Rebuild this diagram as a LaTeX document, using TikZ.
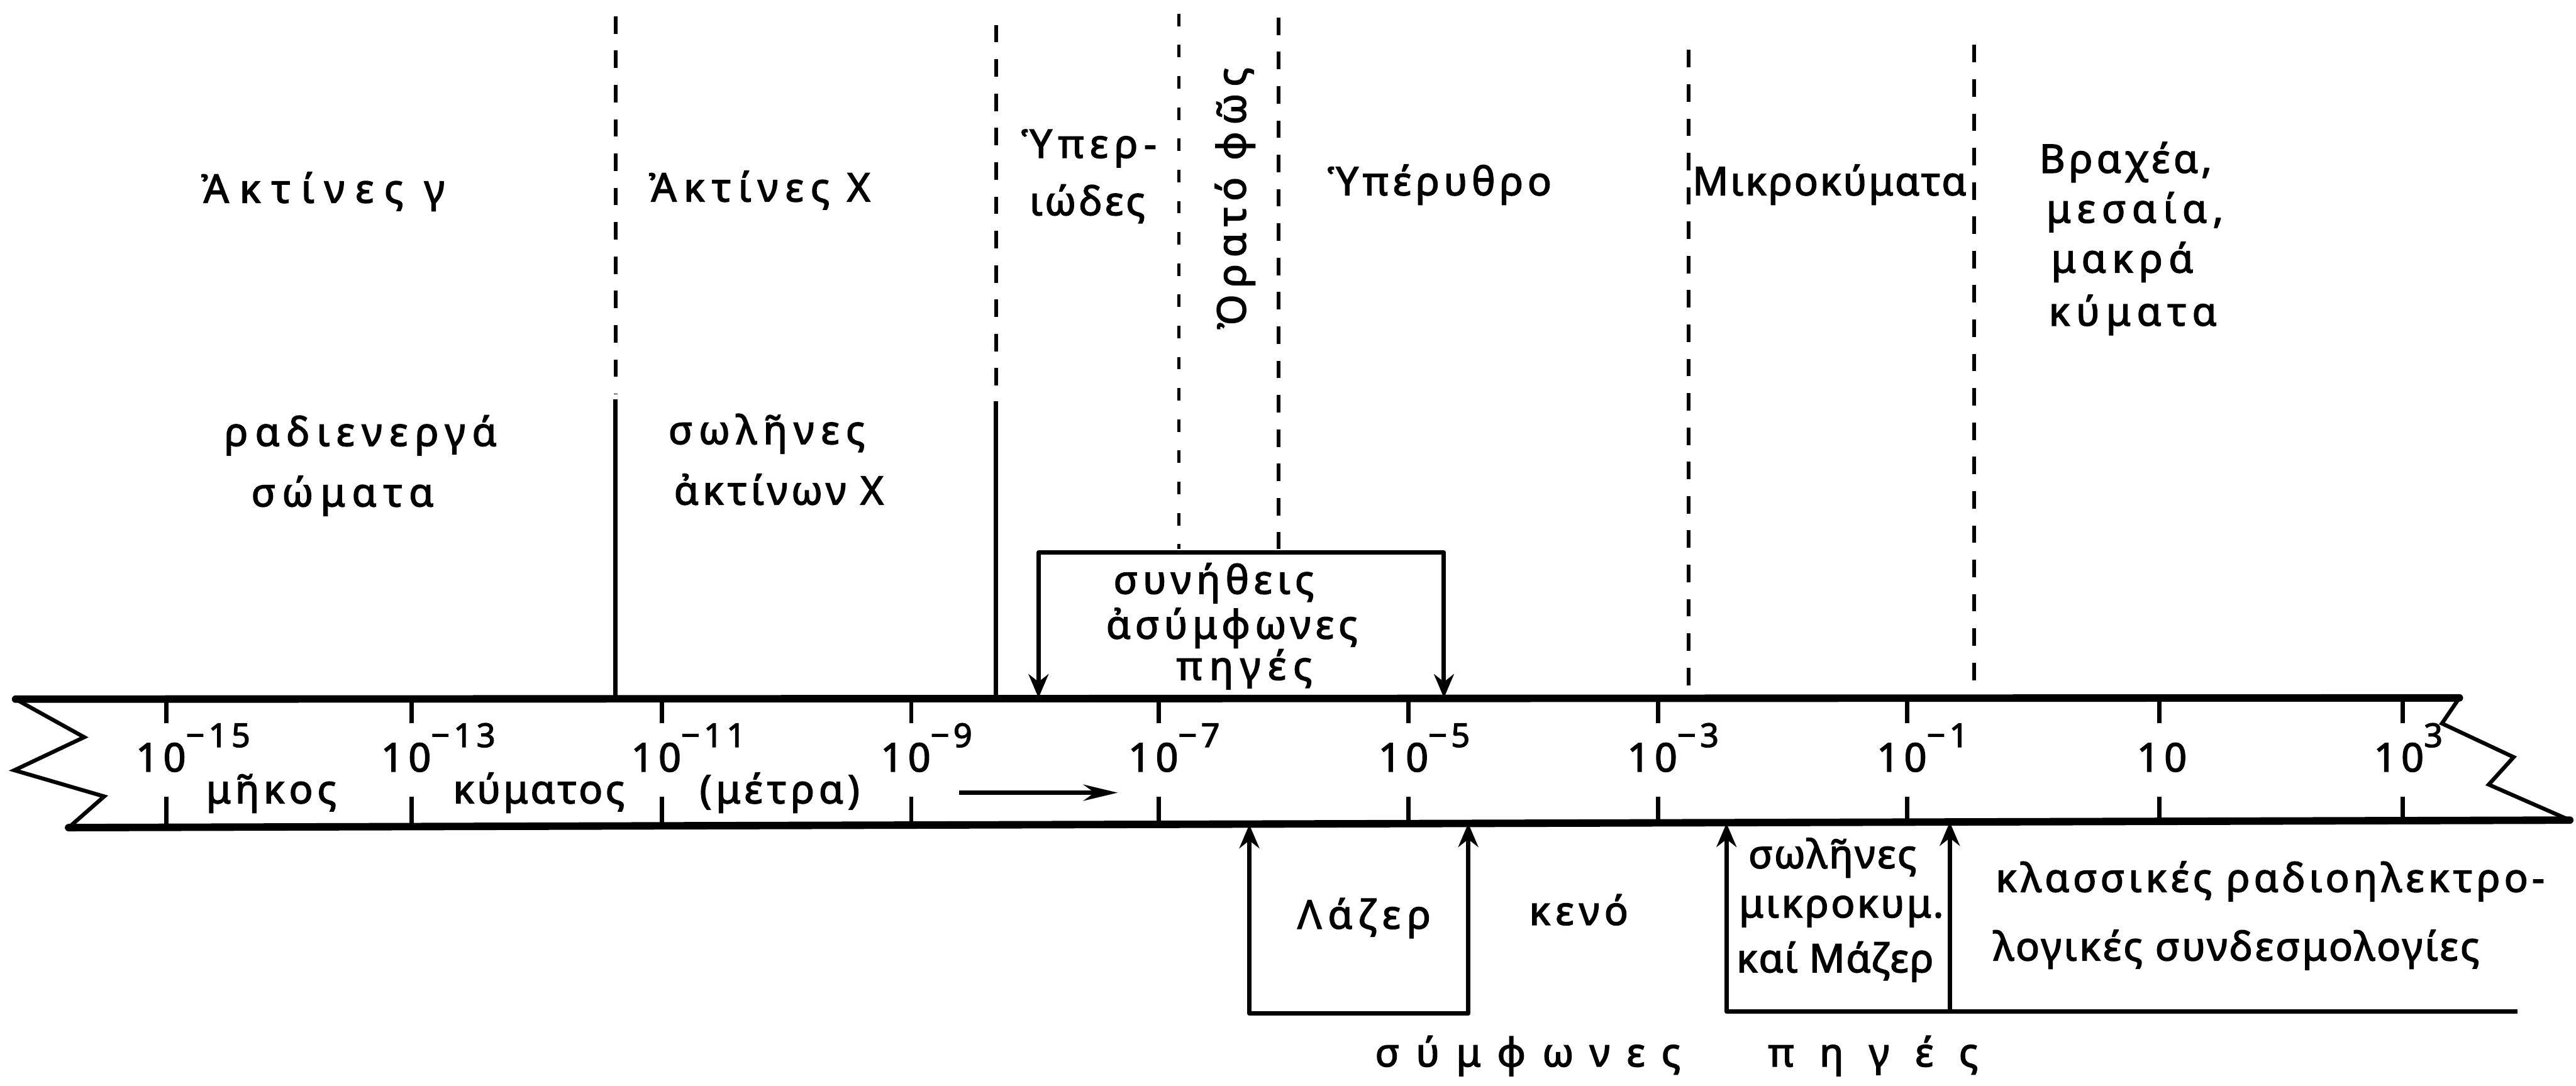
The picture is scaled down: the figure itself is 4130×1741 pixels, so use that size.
\documentclass[tikz,border=0pt]{standalone}
\usepackage{fontspec}
\setmainfont{Noto Sans}
\usetikzlibrary{arrows.meta}
\newcommand\lsfont[1]{\fontsize{18}{21}\selectfont\addfontfeature{LetterSpace=#1,FakeBold=2.5}}
\newcommand\supx[1]{\rlap{\raisebox{0.62em}{\fontsize{15}{15}\selectfont #1}}}
\begin{document}
\begin{tikzpicture}[x=0.01cm,y=-0.01cm,
  txt/.style={inner sep=0pt, anchor=base, font=\lsfont{#1}},
  txt/.default=12,
  band/.style={line width=3.4pt, line cap=round},
  zig/.style={line width=1.8pt, line join=miter},
  tickl/.style={line width=2pt},
  solidb/.style={line width=2pt},
  dsh/.style={line width=1.7pt, dash pattern=on 0.28cm off 0.27cm},
  fdsh/.style={line width=1.4pt, dash pattern=on 0.2cm off 0.3cm},
  boxl/.style={line width=2pt, line join=round},
  tipb/.style={{Stealth[length=0.38cm,width=0.32cm]}-{Stealth[length=0.38cm,width=0.32cm]}},
  tips/.style={{Stealth[length=0.38cm,width=0.32cm]}-},
  tipe/.style={-{Stealth[length=0.38cm,width=0.32cm]}},
]
\useasboundingbox (0,0) rectangle (4130,1741);

% ---------- band ----------
\coordinate (TL) at (25,1121);
\coordinate (TR) at (3943,1119);
\coordinate (BL) at (110,1327);
\coordinate (BR) at (4120,1315);
\draw[band] (TL) -- (TR);
\draw[band] (BL) -- (BR);
\draw[zig] (TL) -- (135,1182) -- (23,1235) -- (167,1277) -- (BL);
\draw[zig] (TR) -- (3915,1160) -- (4030,1214) -- (3990,1258) -- (BR);

\foreach \x in {267,660,1061,1461,1858,2258,2658,3058,3462,3852} {
  \pgfmathsetmacro\yb{1327-(\x-110)*0.003}
  \draw[tickl] (\x,1120) -- (\x,1160);
  \draw[tickl] (\x,1277) -- (\x,\yb);
}

\node[txt] (t15) at (258,1237) {10\supx{−15}};
\node[txt] (t13) at (651,1237) {10\supx{−13}};
\node[txt] (t11) at (1052,1237) {10\supx{−11}};
\node[txt] (t9)  at (1452,1237) {10\supx{−9}};
\node[txt] (t7)  at (1849,1237) {10\supx{−7}};
\node[txt] (t5)  at (2250,1237) {10\supx{−5}};
\node[txt] (t3)  at (2649,1237) {10\supx{−3}};
\node[txt] (t1)  at (3049,1237) {10\supx{−1}};
\node[txt] (t0)  at (3466,1237) {10};
\node[txt] (tp3) at (3846,1237) {10\supx{3}};

\node[txt=11] (w1) at (435,1288) {μῆκος};
\node[txt=7]  (w2) at (864,1288) {κύματος};
\node[txt=11] (w3) at (1250,1288) {(μέτρα)};

\coordinate (ar1) at (1538,1271);
\coordinate (ar2) at (1792,1271);
\draw[line width=2pt, -{Stealth[length=0.55cm,width=0.26cm]}] (ar1) -- (ar2);

% ---------- boundaries ----------
\draw[dsh] (987,26) -- (987,632);
\draw[solidb] (987,640) -- (987,1121);
\draw[dsh] (1597,40) -- (1597,636);
\draw[solidb] (1597,643) -- (1597,1121);
\draw[fdsh] (1890,22) -- (1890,880);
\draw[dsh] (2050,28) -- (2050,880);
\draw[dsh] (2707,80) -- (2707,1106);
\draw[dsh] (3165,72) -- (3165,1119);

% ---------- region labels ----------
\node[txt=27] (gam) at (518,325) {Ἀκτίνες γ};
\node[txt=18] (rad1) at (578,715) {ραδιενεργά};
\node[txt=18] (rad2) at (549,812) {σώματα};
\node[txt=18, anchor=base west] (xr) at (1040,323) {Ἀκτίνες Χ};
\node[txt=17, anchor=base west] (xt1) at (1071,712) {σωλῆνες};
\node[txt=10, anchor=base west] (xt2) at (1080,809) {ἀκτίνων Χ};
\node[txt=15, anchor=base west] (uv1) at (1637,253) {Ὑπερ-};
\node[txt=7, anchor=base west] (uv2) at (1650,345) {ιώδες};
\node[txt=17, rotate=90, anchor=base] (vis) at (1997,318) {Ὀρατό φῶς};
\node[txt=11, anchor=base west] (ir) at (2128,313) {Ὑπέρυθρο};
\node[txt=5, anchor=base west] (mw) at (2713,313) {Μικροκύματα};
\node[txt=10, anchor=base west] (sw1) at (3269,277) {Βραχέα,};
\node[txt=17, anchor=base west] (sw2) at (3280,357) {μεσαία,};
\node[txt=15, anchor=base west] (sw3) at (3288,437) {μακρά};
\node[txt=16, anchor=base west] (sw4) at (3284,522) {κύματα};

% ---------- incoherent sources box ----------
\coordinate (c1a) at (1665,1119);
\coordinate (c1b) at (1665,886);
\coordinate (c1c) at (2315,886);
\coordinate (c1d) at (2315,1119);
\draw[boxl, tipb] (c1a) -- (c1b) -- (c1c) -- (c1d);
\node[txt=13] (inc1) at (1946,952) {συνήθεις};
\node[txt=12] (inc2) at (1975,1024) {ἀσύμφωνες};
\node[txt=18] (inc3) at (1995,1090) {πηγές};

% ---------- laser box ----------
\coordinate (l1) at (2003,1322);
\coordinate (l2) at (2003,1625);
\coordinate (l3) at (2354,1625);
\coordinate (l4) at (2354,1320);
\draw[boxl, tipb] (l1) -- (l2) -- (l3) -- (l4);
\node[txt=16] (las) at (2187,1489) {Λάζερ};
\node[txt=13] (ken) at (2531,1483) {κενό};

% ---------- microwave / classical ----------
\coordinate (m1) at (2768,1320);
\coordinate (m2) at (2768,1622);
\coordinate (m3) at (4036,1622);
\coordinate (m4) at (3126,1622);
\coordinate (m5) at (3126,1318);
\draw[boxl, tips] (m1) -- (m2) -- (m3);
\draw[boxl, tipe] (m4) -- (m5);
\node[txt=5] (mt1) at (2938,1392) {σωλῆνες};
\node[txt=6] (mt2) at (2952,1471) {μικροκυμ.};
\node[txt=3] (mt3) at (2942,1559) {καί Μάζερ};
\node[txt=10, anchor=base west] (cl1) at (3199,1430) {κλασσικές ραδιοηλεκτρο-};
\node[txt=6, anchor=base west] (cl2) at (3195,1540) {λογικές συνδεσμολογίες};

\node[txt=42, anchor=base west] (coh1) at (2204,1710) {σύμφωνες};
\node[txt=65, anchor=base west] (coh2) at (2834,1710) {πηγές};
\end{tikzpicture}
\end{document}
